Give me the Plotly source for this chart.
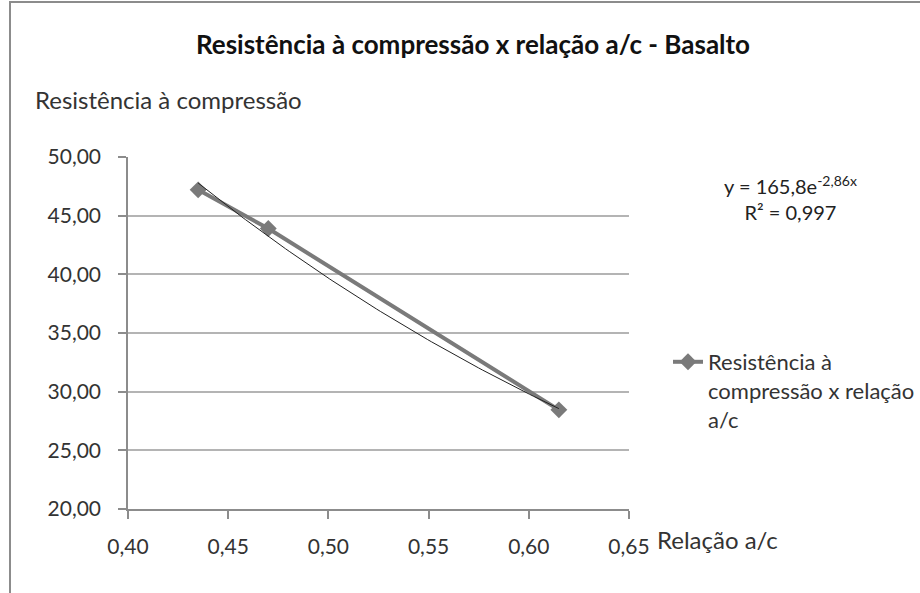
import numpy as np
import plotly.graph_objects as go

# Data
relacao_ac = [0.435, 0.47, 0.615]
resistencia = [47.2, 43.9, 28.45]
series_name = "Resistência à<br>compressão x relação<br>a/c"

# Exponential trendline as printed on the chart: y = 165,8 e^(-2,86x)
trend_a = 165.8
trend_b = -2.86
trend_r2 = "0,997"

x_ticks = [0.40, 0.45, 0.50, 0.55, 0.60, 0.65]
x_tick_labels = ["0,40", "0,45", "0,50", "0,55", "0,60", "0,65"]
y_ticks = [20, 25, 30, 35, 40, 45, 50]
y_tick_labels = ["20,00", "25,00", "30,00", "35,00", "40,00", "45,00", "50,00"]

FONT = "Lato"
W, H = 920, 593
L, R, T, B = 128, 291, 157, 84
PW, PH = W - L - R, H - T - B

def px(xp):
    return (xp - L) / PW

def py(yp):
    return (H - B - yp) / PH

trend_x = np.linspace(min(relacao_ac), max(relacao_ac), 100)
trend_y = trend_a * np.exp(trend_b * trend_x)

fig = go.Figure()
fig.add_trace(go.Scatter(
    x=relacao_ac, y=resistencia, mode="lines+markers", name=series_name,
    line=dict(color="#7a7a7a", width=4),
    marker=dict(symbol="diamond", size=13, color="#7a7a7a"),
))
fig.add_trace(go.Scatter(
    x=trend_x, y=trend_y, mode="lines", showlegend=False, hoverinfo="skip",
    line=dict(color="#222222", width=1),
))

axis_common = dict(
    showline=True, linecolor="#8c8c8c", linewidth=1.5,
    ticks="outside", ticklen=8, tickcolor="#8c8c8c", tickwidth=1.5,
    zeroline=False, automargin=False,
    tickfont=dict(family=FONT, size=21, color="#333333"),
)

fig.update_xaxes(range=[0.40, 0.65], tickvals=x_ticks, ticktext=x_tick_labels,
                 showgrid=False, ticklabelstandoff=10, **axis_common)
fig.update_yaxes(range=[20, 50], tickvals=y_ticks, ticktext=y_tick_labels,
                 showgrid=True, gridcolor="#b4b4b4", gridwidth=1.5,
                 ticklabelstandoff=13, **axis_common)

fig.update_layout(
    width=W, height=H,
    margin=dict(l=L, r=R, t=T, b=B, autoexpand=False),
    paper_bgcolor="white", plot_bgcolor="white",
    font=dict(family=FONT, color="#222222"),
    title=dict(text="<b>Resistência à compressão x relação a/c - Basalto</b>",
               xref="container", yref="container",
               x=473 / W, xanchor="center", y=1 - 45 / H, yanchor="middle",
               font=dict(family=FONT, size=26, color="#111111")),
    legend=dict(x=px(668), xanchor="left", y=py(341), yanchor="top",
                valign="top", font=dict(family=FONT, size=22, color="#333333"),
                bgcolor="rgba(0,0,0,0)", itemwidth=30, tracegroupgap=0),
    showlegend=True,
    annotations=[
        dict(text="Resistência à compressão", xref="paper", yref="paper",
             x=px(33), y=py(99), xanchor="left", yanchor="middle", showarrow=False,
             font=dict(family=FONT, size=24, color="#333333")),
        dict(text="Relação a/c", xref="paper", yref="paper",
             x=px(655), y=py(539), xanchor="left", yanchor="middle", showarrow=False,
             font=dict(family=FONT, size=24, color="#333333")),
        dict(text=f"y = {trend_a:.1f}".replace(".", ",") + "e<sup>" +
                  f"{trend_b:.2f}".replace(".", ",") + "x</sup><br>R² = " + trend_r2,
             xref="paper", yref="paper", x=px(790), y=py(198),
             xanchor="center", yanchor="middle", align="center", showarrow=False,
             font=dict(family=FONT, size=20, color="#222222")),
    ],
    shapes=[
        dict(type="rect", xref="paper", yref="paper",
             x0=px(10), x1=px(940), y0=py(610), y1=py(2),
             line=dict(color="#8c8c8c", width=2), layer="below"),
    ],
)

fig.write_html("out.html", config={"displayModeBar": False},
               post_script="document.body.style.margin='0';document.body.style.overflow='hidden';")
